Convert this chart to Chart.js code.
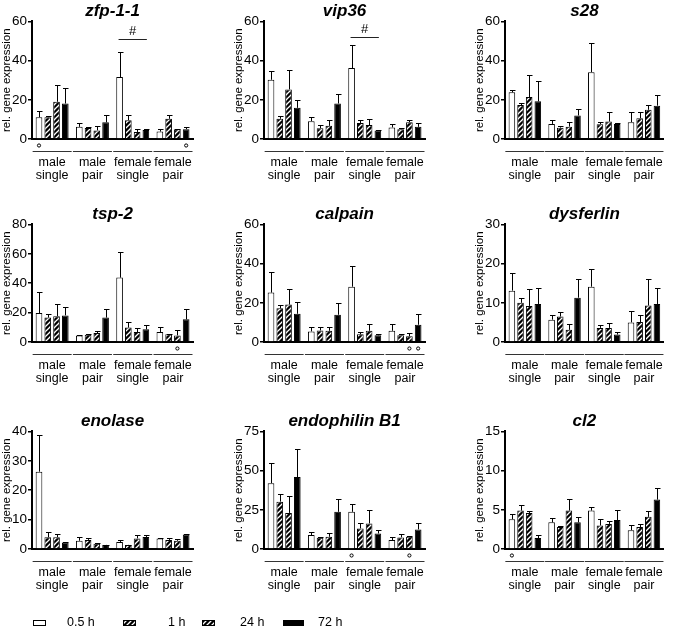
<!DOCTYPE html>
<html>
<head>
<meta charset="utf-8">
<script src="https://cdn.jsdelivr.net/npm/chart.js@4.4.1/dist/chart.umd.min.js"></script>
<style>
  html, body { margin: 0; padding: 0; background: #fff; }
  body { width: 682px; height: 634px; position: relative; overflow: hidden; }
  canvas.panel, #legend { position: absolute; }
  #legend { left: 0; top: 612px; }
</style>
</head>
<body>
<canvas id="legend" width="400" height="22"></canvas>
<script>
// ==========================================
//  TIME COURSE OF GENE EXPRESSION, 3x3 PANELS
// ==========================================

// === DATA ===
var GROUPS = [['male', 'single'], ['male', 'pair'], ['female', 'single'], ['female', 'pair']];
var TIMES  = ['0.5 h', '1 h', '24 h', '72 h'];

// rows = time point, columns = group (male single, male pair, female single, female pair)
var ZFP_MEAN = [[11.1, 6.2, 31.6, 3.8], [11.1, 5.6, 9.6, 10.3], [19.0, 4.4, 3.6, 5.0], [18.1, 8.5, 4.6, 5.0]];
var ZFP_ERR  = [[3.4, 1.8, 12.8, 1.5], [0.5, 0.6, 2.4, 1.7], [8.5, 2.3, 1.7, 0.2], [7.7, 3.5, 0.5, 1.3]];

var VIP_MEAN = [[30.2, 9.1, 36.2, 5.9], [10.3, 5.5, 8.1, 5.0], [25.3, 6.7, 7.1, 8.6], [15.9, 18.1, 4.3, 6.2]];
var VIP_ERR  = [[4.3, 2.3, 11.6, 1.9], [1.3, 1.7, 1.6, 0.5], [10.0, 3.1, 3.2, 1.2], [3.8, 4.8, 0.5, 2.1]];

var S28_MEAN = [[23.8, 7.7, 34.1, 8.6], [17.3, 5.8, 7.5, 10.6], [21.4, 6.3, 8.9, 14.9], [19.2, 12.0, 7.7, 17.0]];
var S28_ERR  = [[1.4, 2.2, 14.8, 5.1], [1.1, 0.9, 1.1, 3.1], [11.2, 2.6, 4.8, 2.6], [10.6, 3.4, 0.7, 5.6]];

var TSP_MEAN = [[19.7, 4.5, 43.8, 6.8], [16.6, 5.0, 9.8, 5.2], [17.5, 6.1, 6.8, 4.5], [18.1, 16.6, 8.6, 15.4]];
var TSP_ERR  = [[14.3, 0.3, 17.4, 3.4], [2.7, 0.7, 3.8, 0.5], [8.1, 1.4, 3.0, 3.4], [5.7, 6.1, 3.2, 7.3]];

var CAL_MEAN = [[25.2, 5.4, 28.2, 5.7], [17.2, 5.9, 3.9, 3.4], [19.1, 5.7, 5.7, 2.9], [14.4, 13.9, 3.4, 8.8]];
var CAL_ERR  = [[10.3, 2.0, 10.7, 3.4], [1.9, 1.5, 1.0, 0.5], [7.8, 1.9, 3.3, 1.7], [6.2, 5.9, 0.5, 5.4]];

var DYS_MEAN = [[13.1, 5.7, 14.1, 5.0], [10.0, 6.5, 3.6, 5.1], [9.2, 3.1, 3.6, 9.3], [9.7, 11.3, 1.9, 9.7]];
var DYS_ERR  = [[4.4, 1.1, 4.6, 2.8], [1.3, 1.2, 0.8, 1.7], [4.2, 1.5, 1.2, 6.8], [4.2, 4.7, 0.6, 4.2]];

var ENO_MEAN = [[26.3, 2.8, 2.4, 3.6], [4.0, 3.1, 1.4, 3.1], [4.0, 1.8, 3.6, 2.8], [2.2, 1.4, 4.1, 4.9]];
var ENO_ERR  = [[12.5, 1.4, 0.7, 0.3], [1.7, 0.5, 0.1, 0.5], [1.0, 0.4, 1.2, 0.6], [0.2, 0.1, 0.7, 0.3]];

var END_MEAN = [[42.0, 8.9, 23.7, 5.7], [30.2, 7.2, 13.1, 7.4], [23.0, 7.8, 16.3, 7.8], [45.9, 23.7, 9.9, 12.5]];
var END_ERR  = [[13.0, 1.9, 5.3, 2.1], [5.1, 0.6, 3.6, 1.9], [10.8, 2.6, 8.4, 0.4], [17.9, 8.4, 2.2, 4.2]];

var CL2_MEAN = [[3.8, 3.4, 4.9, 2.4], [4.9, 2.8, 3.0, 2.8], [4.6, 4.9, 3.2, 4.1], [1.4, 3.4, 3.7, 6.3]];
var CL2_ERR  = [[0.7, 0.6, 0.4, 0.7], [0.7, 0.1, 0.8, 0.4], [0.3, 1.5, 0.4, 0.7], [0.4, 0.7, 1.3, 1.5]];

// y axis range per panel: [max, step]
var Y_RANGES = [[60, 20], [60, 20], [60, 20], [80, 20], [60, 20], [30, 10], [40, 10], [75, 25], [15, 5]];

// small circles under bars: [time index, group index]
var CIRCLES = [
  [[0, 0], [3, 3]], [], [],
  [[2, 3]], [[2, 3], [3, 3]], [],
  [], [[0, 2], [2, 3]], [[0, 0]]
];
// "#" bracket over a group: [group index, y value]
var HASHES = [[2, 51], [2, 52], null, null, null, null, null, null, null];

var TITLES = ['zfp-1-1', 'vip36', 's28', 'tsp-2', 'calpain', 'dysferlin', 'enolase', 'endophilin B1', 'cl2'];
var MEANS  = [ZFP_MEAN, VIP_MEAN, S28_MEAN, TSP_MEAN, CAL_MEAN, DYS_MEAN, ENO_MEAN, END_MEAN, CL2_MEAN];
var ERRS   = [ZFP_ERR, VIP_ERR, S28_ERR, TSP_ERR, CAL_ERR, DYS_ERR, ENO_ERR, END_ERR, CL2_ERR];

(function () {
  'use strict';

  var FONT = '"Liberation Sans", Arial, Helvetica, sans-serif';
  Chart.defaults.font.family = FONT;
  Chart.defaults.color = '#000';

  // === PANEL GEOMETRY ===
  var COL_LEFT = [0, 232, 473];
  var PLOT_W   = [179, 179, 177];
  var ROW_TOP  = [-1, 202, 409];
  var AXIS_W   = 32;
  var CANVAS_H = 190;

  // === HATCH PATTERN ===
  function makeHatch() {
    var c = document.createElement('canvas');
    c.width = 5; c.height = 5;
    var g = c.getContext('2d');
    g.fillStyle = '#000';
    g.fillRect(0, 0, 5, 5);
    g.strokeStyle = '#fff';
    g.lineWidth = 1.3;
    g.beginPath();
    g.moveTo(-1, 6); g.lineTo(6, -1);
    g.moveTo(-1, 1); g.lineTo(1, -1);
    g.moveTo(4, 6);  g.lineTo(6, 4);
    g.stroke();
    return g.createPattern(c, 'repeat');
  }
  var HATCH = makeHatch();
  var FILLS = ['#fff', HATCH, HATCH, '#000'];

  // === ERROR BARS (upper SEM only) ===
  var errorBars = {
    id: 'errorBars',
    afterDatasetsDraw: function (chart) {
      var y = chart.scales.y, ctx = chart.ctx;
      ctx.save();
      ctx.strokeStyle = '#000';
      ctx.lineWidth = 1;
      chart.data.datasets.forEach(function (ds, i) {
        chart.getDatasetMeta(i).data.forEach(function (bar, j) {
          var top = Math.round(y.getPixelForValue(ds.data[j] + ds.err[j])) + 0.5;
          var x = Math.round(bar.x) + 0.5;
          ctx.beginPath();
          ctx.moveTo(x, bar.y);
          ctx.lineTo(x, top);
          ctx.moveTo(x - 2.5, top);
          ctx.lineTo(x + 3, top);
          ctx.stroke();
        });
      });
      ctx.restore();
    }
  };

  // === GROUP UNDERLINES, CIRCLES, # BRACKET ===
  function makeMarks(circles, hash) {
    return {
      id: 'marks',
      afterDraw: function (chart) {
        var ctx = chart.ctx, xs = chart.scales.x, ys = chart.scales.y;
        var bottom = chart.chartArea.bottom;
        ctx.save();
        ctx.strokeStyle = '#333';
        ctx.lineWidth = 1;
        GROUPS.forEach(function (g, i) {
          var cx = xs.getPixelForValue(i);
          ctx.beginPath();
          ctx.moveTo(cx - 19.5, bottom + 12.5);
          ctx.lineTo(cx + 19.5, bottom + 12.5);
          ctx.stroke();
        });
        ctx.strokeStyle = '#000';
        ctx.fillStyle = '#fff';
        circles.forEach(function (c) {
          var bar = chart.getDatasetMeta(c[0]).data[c[1]];
          ctx.beginPath();
          ctx.arc(bar.x, bottom + 6.5, 1.6, 0, Math.PI * 2);
          ctx.fill();
          ctx.stroke();
        });
        if (hash) {
          var b0 = chart.getDatasetMeta(0).data[hash[0]];
          var b3 = chart.getDatasetMeta(3).data[hash[0]];
          var hy = Math.round(ys.getPixelForValue(hash[1])) + 0.5;
          ctx.strokeStyle = '#222';
          ctx.beginPath();
          ctx.moveTo(b0.x - 1, hy);
          ctx.lineTo(b3.x + 1, hy);
          ctx.stroke();
          ctx.fillStyle = '#000';
          ctx.font = '13px ' + FONT;
          ctx.textAlign = 'center';
          ctx.textBaseline = 'middle';
          ctx.fillText('#', (b0.x + b3.x) / 2, hy - 8);
        }
        ctx.restore();
      }
    };
  }

  // === BUILD PANELS ===
  TITLES.forEach(function (title, k) {
    var col = k % 3, row = Math.floor(k / 3);
    var canvas = document.createElement('canvas');
    canvas.className = 'panel';
    canvas.width  = AXIS_W + PLOT_W[col];
    canvas.height = CANVAS_H;
    canvas.style.left = COL_LEFT[col] + 'px';
    canvas.style.top  = ROW_TOP[row] + 'px';
    document.body.appendChild(canvas);

    var datasets = TIMES.map(function (t, i) {
      return {
        label: t,
        data: MEANS[k][i],
        err: ERRS[k][i],
        backgroundColor: FILLS[i],
        borderColor: '#000',
        borderWidth: 1,
        categoryPercentage: 0.87,
        barPercentage: 0.76
      };
    });

    new Chart(canvas.getContext('2d'), {
      type: 'bar',
      data: { labels: GROUPS, datasets: datasets },
      options: {
        responsive: false,
        animation: false,
        layout: { padding: 0 },
        plugins: {
          legend: { display: false },
          tooltip: { enabled: false },
          title: {
            display: true,
            text: title,
            fullSize: false,
            font: { size: 17, weight: 'bold', style: 'italic', lineHeight: 1.2 },
            padding: { top: 2, bottom: 0 }
          }
        },
        scales: {
          x: {
            grid: { display: false, drawTicks: false },
            border: { display: true, color: '#000', width: 2 },
            ticks: { padding: 17, maxRotation: 0, minRotation: 0, autoSkip: false,
                     font: { size: 12.5, lineHeight: 1.05 } },
            afterFit: function (s) { s.height = 50; }
          },
          y: {
            min: 0,
            max: Y_RANGES[k][0],
            ticks: { stepSize: Y_RANGES[k][1], padding: 1, font: { size: 13.5 } },
            grid: { drawOnChartArea: false, drawTicks: true, tickLength: 4, color: '#000', lineWidth: 1.5 },
            border: { display: true, color: '#000', width: 2 },
            title: { display: true, text: 'rel. gene expression', padding: 0,
                     font: { size: 11.5, lineHeight: 1.2 } },
            afterFit: function (s) { s.width = AXIS_W; }
          }
        }
      },
      plugins: [errorBars, makeMarks(CIRCLES[k], HASHES[k])]
    });
  });

  // === LEGEND ===
  var SWATCH_X = [33, 123, 202, 283];
  var SWATCH_W = [13, 13, 13, 21];
  var LABEL_X  = [67, 168, 240, 318];
  var lg = document.getElementById('legend').getContext('2d');
  lg.font = '12.5px ' + FONT;
  lg.textBaseline = 'middle';
  TIMES.forEach(function (t, i) {
    lg.fillStyle = FILLS[i];
    lg.fillRect(SWATCH_X[i], 8, SWATCH_W[i], 6);
    lg.strokeStyle = '#000';
    lg.lineWidth = 1;
    lg.strokeRect(SWATCH_X[i] + 0.5, 8.5, SWATCH_W[i] - 1, 5);
    lg.fillStyle = '#000';
    lg.fillText(t, LABEL_X[i], 11);
  });
}());
</script>
</body>
</html>
